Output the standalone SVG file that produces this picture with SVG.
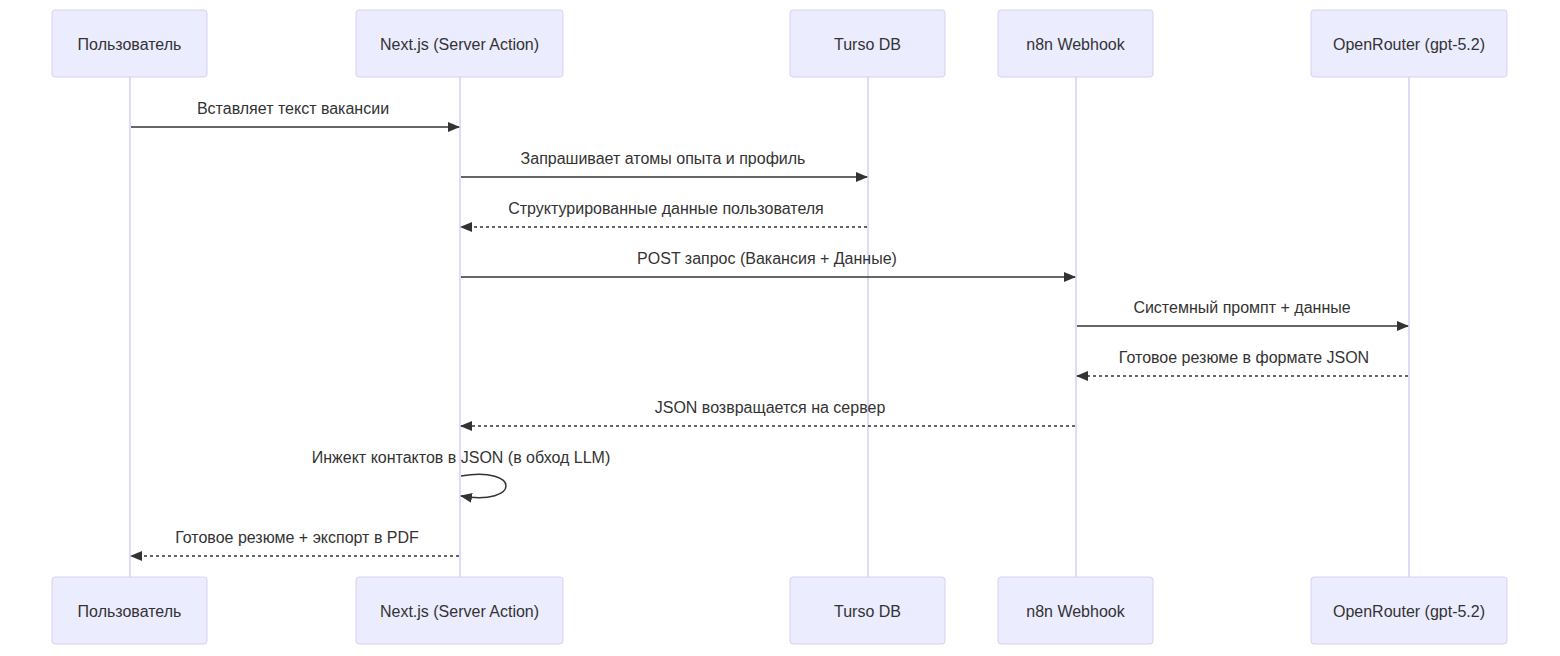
<svg xmlns="http://www.w3.org/2000/svg" width="1560" height="656" viewBox="0 0 1560 656">
<style>
.actor{fill:#ECECFF;stroke:#D9CEF3;stroke-width:1}
.atext{font-family:"Liberation Sans",Arial,sans-serif;font-size:16px;fill:#333;text-anchor:middle;dominant-baseline:central}
.life{stroke:#D9CEF3;stroke-width:1.5}
.msg{stroke:#333;stroke-width:1.5;fill:none}
.dash{stroke-dasharray:3,3}
.mtext{font-family:"Liberation Sans",Arial,sans-serif;font-size:16px;fill:#333;text-anchor:middle}
</style>
<defs>
<marker id="ah" viewBox="0 0 12 10" refX="11" refY="5" markerWidth="12" markerHeight="10" markerUnits="userSpaceOnUse" orient="auto">
<path d="M0,0 L12,5 L0,10 z" fill="#333"/>
</marker>
</defs>
<rect width="1560" height="656" fill="#fff"/>
<g id="lifelines">
<line class="life" x1="130" y1="77" x2="130" y2="577"/>
<line class="life" x1="460" y1="77" x2="460" y2="577"/>
<line class="life" x1="868" y1="77" x2="868" y2="577"/>
<line class="life" x1="1076" y1="77" x2="1076" y2="577"/>
<line class="life" x1="1409" y1="77" x2="1409" y2="577"/>
</g>
<g id="actor-user">
<rect class="actor" x="52" y="10" width="155" height="67" rx="3"/>
<text class="atext" x="129.5" y="44">Пользователь</text>
</g>
<g id="actor-next">
<rect class="actor" x="356" y="10" width="207" height="67" rx="3"/>
<text class="atext" x="459.5" y="44">Next.js (Server Action)</text>
</g>
<g id="actor-turso">
<rect class="actor" x="790" y="10" width="155" height="67" rx="3"/>
<text class="atext" x="867.5" y="44">Turso DB</text>
</g>
<g id="actor-n8n">
<rect class="actor" x="998" y="10" width="155" height="67" rx="3"/>
<text class="atext" x="1075.5" y="44">n8n Webhook</text>
</g>
<g id="actor-openrouter">
<rect class="actor" x="1311" y="10" width="196" height="67" rx="3"/>
<text class="atext" x="1409" y="44">OpenRouter (gpt-5.2)</text>
</g>
<g id="actor-user-bottom">
<rect class="actor" x="52" y="577" width="155" height="67" rx="3"/>
<text class="atext" x="129.5" y="611">Пользователь</text>
</g>
<g id="actor-next-bottom">
<rect class="actor" x="356" y="577" width="207" height="67" rx="3"/>
<text class="atext" x="459.5" y="611">Next.js (Server Action)</text>
</g>
<g id="actor-turso-bottom">
<rect class="actor" x="790" y="577" width="155" height="67" rx="3"/>
<text class="atext" x="867.5" y="611">Turso DB</text>
</g>
<g id="actor-n8n-bottom">
<rect class="actor" x="998" y="577" width="155" height="67" rx="3"/>
<text class="atext" x="1075.5" y="611">n8n Webhook</text>
</g>
<g id="actor-openrouter-bottom">
<rect class="actor" x="1311" y="577" width="196" height="67" rx="3"/>
<text class="atext" x="1409" y="611">OpenRouter (gpt-5.2)</text>
</g>
<g id="messages">
<text class="mtext" x="293" y="114">Вставляет текст вакансии</text>
<line class="msg" x1="131" y1="127" x2="459" y2="127" marker-end="url(#ah)"/>
<text class="mtext" x="663" y="164">Запрашивает атомы опыта и профиль</text>
<line class="msg" x1="461" y1="177" x2="867" y2="177" marker-end="url(#ah)"/>
<text class="mtext" x="666" y="214">Структурированные данные пользователя</text>
<line class="msg dash" x1="867" y1="227" x2="461" y2="227" marker-end="url(#ah)"/>
<text class="mtext" x="767" y="264">POST запрос (Вакансия + Данные)</text>
<line class="msg" x1="461" y1="277" x2="1075" y2="277" marker-end="url(#ah)"/>
<text class="mtext" x="1242" y="313">Системный промпт + данные</text>
<line class="msg" x1="1077" y1="326" x2="1408" y2="326" marker-end="url(#ah)"/>
<text class="mtext" x="1244" y="363">Готовое резюме в формате JSON</text>
<line class="msg dash" x1="1408" y1="376" x2="1077" y2="376" marker-end="url(#ah)"/>
<text class="mtext" x="770" y="413">JSON возвращается на сервер</text>
<line class="msg dash" x1="1075" y1="426" x2="461" y2="426" marker-end="url(#ah)"/>
<text class="mtext" x="461" y="463">Инжект контактов в JSON (в обход LLM)</text>
<path class="msg" d="M461,476 C521,466 521,506 461,496" marker-end="url(#ah)"/>
<text class="mtext" x="297" y="543">Готовое резюме + экспорт в PDF</text>
<line class="msg dash" x1="459" y1="556" x2="131" y2="556" marker-end="url(#ah)"/>
</g>
</svg>
